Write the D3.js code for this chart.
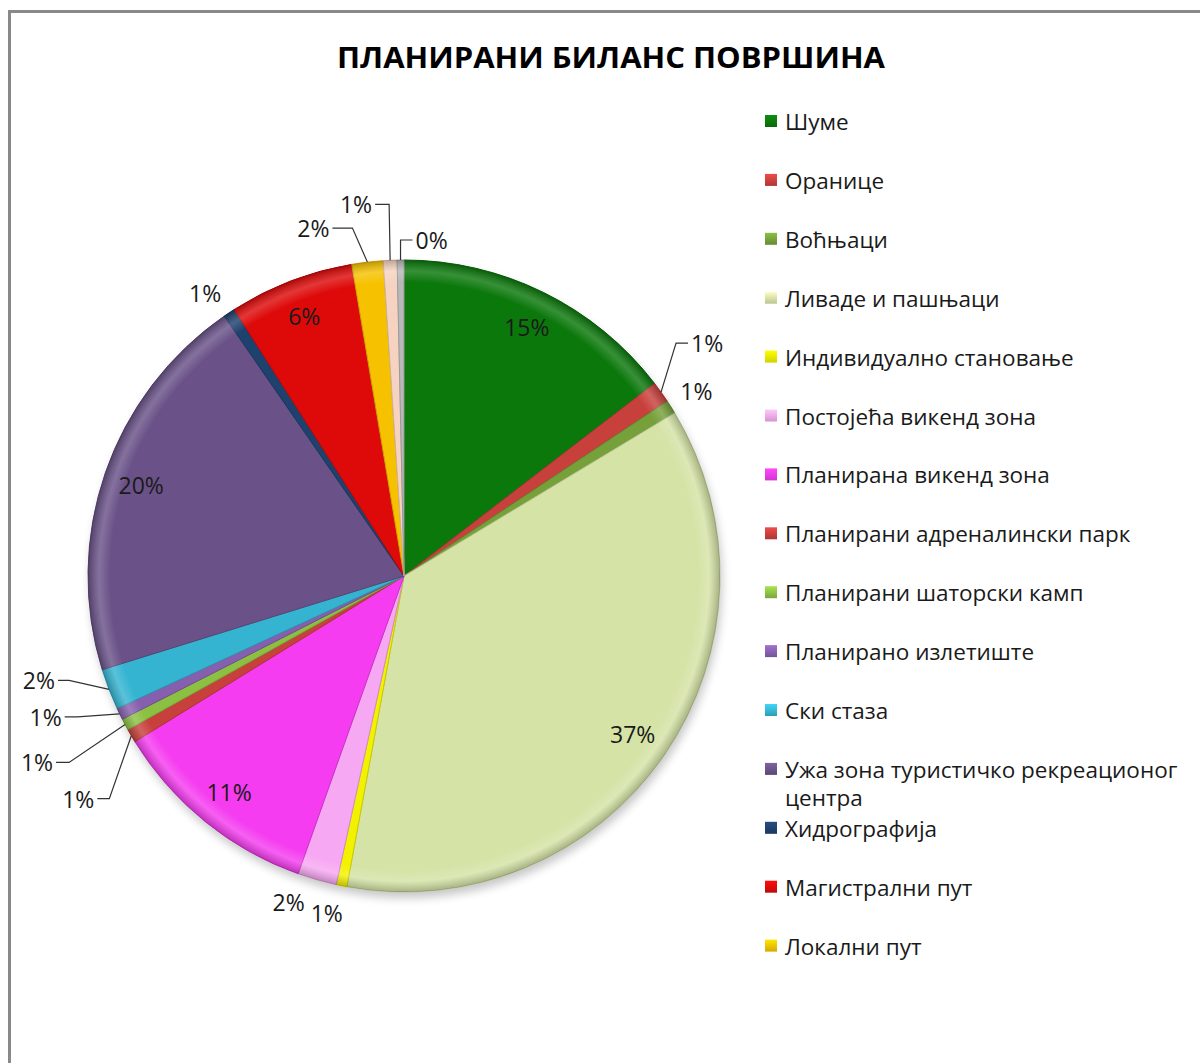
<!DOCTYPE html>
<html>
<head>
<meta charset="utf-8">
<script src="https://cdn.jsdelivr.net/npm/d3@7"></script>
<style>
  body { margin: 0; background: #fff; }
  text { font-family: "Open Sans", sans-serif; fill: #1a1a1a; }
</style>
</head>
<body>
<div id="chart"></div>
<script>
// chart size
const width = 1200;
const height = 1063;
const cx = 404, cy = 576, radius = 316;

// data (share of area, %)
const categories = [
  "Шуме", "Оранице", "Воћњаци", "Ливаде и пашњаци", "Индивидуално становање",
  "Постојећа викенд зона", "Планирана викенд зона", "Планирани адреналински парк",
  "Планирани шаторски камп", "Планирано излетиште", "Ски стаза",
  "Ужа зона туристичко рекреационог центра", "Хидрографија", "Магистрални пут",
  "Локални пут", "Остало", "Остало 2"
];
const values = [14.6, 1.1, 0.7, 36.6, 0.55, 2.0, 10.8, 0.7, 0.6, 0.6, 2.1, 20.2, 0.6, 6.4, 1.6, 0.7, 0.35];
const colors = [
  "#0b780b", "#c8403c", "#76a03a", "#d5e3a6", "#f2f200",
  "#f7a8f2", "#f53cf0", "#c8403c", "#8cc043", "#8660ae",
  "#35b4d2", "#6a5288", "#1f416e", "#de0a0a", "#f6c200",
  "#f6d3c0", "#b8b8b8"
];
// legend shows the first 15 entries only (as in the original)
const legendCount = 15;

// how each percent label is placed: in = inside, out = just outside,
// leader = with a leader line [knee dx, knee dy from rim, horizontal length]
const labelMode = ["in", "leader", "out", "in", "out", "out", "in", "leader", "leader",
                   "leader", "leader", "in", "out", "in", "leader", "leader", "leader"];
const outNudge = {4: 1.5, 5: 3.5, 12: -1.5};   // degrees
const leaderKnee = {
  1: [15, -49, 12],
  7: [-22, 63, 12],
  8: [-56, 38, 13],
  9: [-42, 3, 13],
  10: [-40, -9, 11],
  14: [-15, -34, 20],
  15: [-1, -56, 14],
  16: [0, -20, 12]
};

const svg = d3.select("#chart")
  .append("svg")
  .attr("width", width)
  .attr("height", height);

// outer frame
svg.append("rect")
  .attr("x", 9.5).attr("y", 11.5)
  .attr("width", 1200).attr("height", 1060)
  .attr("fill", "#fff")
  .attr("stroke", "#898989")
  .attr("stroke-width", 3);

// title
svg.append("text")
  .attr("x", 611).attr("y", 68)
  .attr("text-anchor", "middle")
  .attr("font-size", "29px")
  .attr("font-weight", "bold")
  .attr("textLength", 548)
  .attr("lengthAdjust", "spacingAndGlyphs")
  .style("fill", "#000")
  .text("ПЛАНИРАНИ БИЛАНС ПОВРШИНА");

const defs = svg.append("defs");
defs.append("filter").attr("id", "shadow")
  .attr("x", "-20%").attr("y", "-20%").attr("width", "140%").attr("height", "140%")
  .append("feGaussianBlur").attr("stdDeviation", 5);

// bevel: light band then darker rim
const rg = defs.append("radialGradient").attr("id", "rim")
  .attr("cx", 0).attr("cy", 0).attr("r", radius)
  .attr("gradientUnits", "userSpaceOnUse");
rg.append("stop").attr("offset", "0.93").attr("stop-color", "#fff").attr("stop-opacity", 0);
rg.append("stop").attr("offset", "0.965").attr("stop-color", "#fff").attr("stop-opacity", 0.18);
rg.append("stop").attr("offset", "1").attr("stop-color", "#000").attr("stop-opacity", 0.22);

const data = categories.map((c, i) => ({name: c, value: values[i], color: colors[i], i: i}));
const total = d3.sum(values);

const pie = d3.pie().sort(null).value(d => d.value);
const arcs = pie(data);
const arc = d3.arc().innerRadius(0).outerRadius(radius);

const g = svg.append("g").attr("transform", `translate(${cx},${cy})`);

// soft shadow below the pie
g.append("circle")
  .attr("cx", 2).attr("cy", 6).attr("r", radius)
  .attr("fill", "#000").attr("opacity", 0.22)
  .attr("filter", "url(#shadow)");

g.selectAll(".slice")
  .data(arcs)
  .enter()
  .append("path")
    .attr("class", "slice")
    .attr("d", arc)
    .attr("fill", d => d.data.color)
    .attr("stroke", d => d3.color(d.data.color).darker(0.5))
    .attr("stroke-width", 1);

g.selectAll(".bevel")
  .data(arcs)
  .enter()
  .append("path")
    .attr("class", "bevel")
    .attr("d", arc)
    .attr("fill", "url(#rim)");

// percent labels
const pctFmt = d => Math.round(d.data.value / total * 100) + "%";
const polar = (a, r) => [r * Math.sin(a), -r * Math.cos(a)];
const labelSize = "23px";

arcs.forEach((d, i) => {
  const mid = (d.startAngle + d.endAngle) / 2;
  const mode = labelMode[i];
  if (mode === "in" || mode === "out") {
    const a = mid + (outNudge[i] || 0) * Math.PI / 180;
    const p = polar(a, radius * (mode === "in" ? 0.88 : 1.095));
    g.append("text")
      .attr("x", p[0]).attr("y", p[1])
      .attr("text-anchor", "middle")
      .attr("dominant-baseline", "central")
      .attr("font-size", labelSize)
      .text(pctFmt(d));
  } else {
    const rim = polar(mid, radius);
    const k = leaderKnee[i];
    const knee = [rim[0] + k[0], rim[1] + k[1]];
    const side = (k[0] >= 0) ? 1 : -1;
    const end = [knee[0] + side * k[2], knee[1]];
    g.append("path")
      .attr("d", d3.line()([rim, knee, end]))
      .attr("fill", "none")
      .attr("stroke", "#333")
      .attr("stroke-width", 1.2);
    g.append("text")
      .attr("x", end[0] + side * 3).attr("y", end[1])
      .attr("text-anchor", side > 0 ? "start" : "end")
      .attr("dominant-baseline", "central")
      .attr("font-size", labelSize)
      .text(pctFmt(d));
  }
});

// legend
const legendX = 765, legendY = 121, legendStep = 58.9;
const legend = svg.append("g");
data.slice(0, legendCount).forEach((d, i) => {
  const y = legendY + i * legendStep;
  const grad = defs.append("linearGradient").attr("id", "lg" + i)
    .attr("x1", 0).attr("y1", 0).attr("x2", 0).attr("y2", 1);
  grad.append("stop").attr("offset", 0).attr("stop-color", d3.color(d.color).brighter(0.5));
  grad.append("stop").attr("offset", 1).attr("stop-color", d3.color(d.color).darker(0.4));
  legend.append("rect")
    .attr("x", legendX).attr("y", y - 6)
    .attr("width", 12).attr("height", 12)
    .attr("fill", "url(#lg" + i + ")");
  const t = legend.append("text")
    .attr("x", legendX + 20).attr("y", y)
    .attr("dominant-baseline", "central")
    .attr("font-size", "22.5px");
  // wrap long names
  const words = d.name.split(" ");
  let line = [];
  let tspan = t.append("tspan").attr("x", legendX + 20);
  words.forEach(w => {
    line.push(w);
    tspan.text(line.join(" "));
    if (tspan.node().getComputedTextLength() > 410 && line.length > 1) {
      line.pop();
      tspan.text(line.join(" "));
      line = [w];
      tspan = t.append("tspan").attr("x", legendX + 20).attr("dy", "28px").text(w);
    }
  });
});
</script>
</body>
</html>
